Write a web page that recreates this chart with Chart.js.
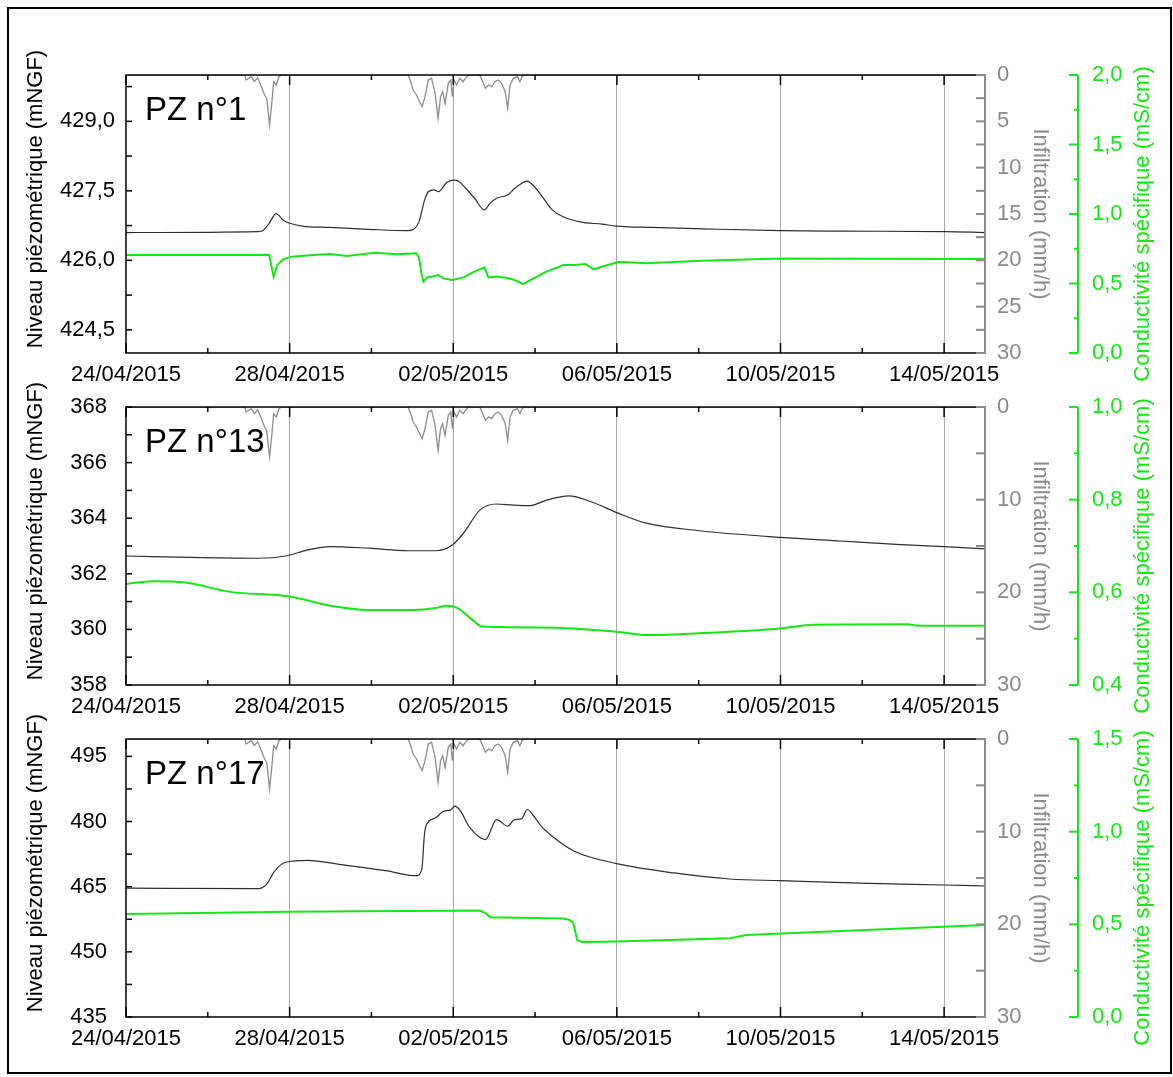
<!DOCTYPE html>
<html lang="fr">
<head>
<meta charset="UTF-8">
<title>Niveau piézométrique, infiltration et conductivité</title>
<script src="https://cdn.jsdelivr.net/npm/chart.js"></script>
<style>
  body { margin: 0; background: #fff; }
  #frame { position: absolute; left: 7px; top: 7px; width: 1165px; height: 1067px; border: 2px solid #000; box-sizing: border-box; }
  canvas { position: absolute; left: 0; }
</style>
</head>
<body>
<div id="frame"></div>
<canvas id="pz1" width="1173" height="360" style="top:42px"></canvas>
<canvas id="pz13" width="1173" height="360" style="top:374px"></canvas>
<canvas id="pz17" width="1173" height="360" style="top:706px"></canvas>
<script>
// x axis: days since 24/04/2015 00:00
const dayTicks = [0, 2, 4, 6, 8, 10, 12, 14, 16, 18, 20];
const dateDays = [0, 4, 8, 12, 16, 20];
const dateLabels = ['24/04/2015', '28/04/2015', '02/05/2015', '06/05/2015', '10/05/2015', '14/05/2015'];

const panelNames = ['PZ n°1', 'PZ n°13', 'PZ n°17'];
const levelTitle = 'Niveau piézométrique (mNGF)';
const infilTitle = 'Infiltration (mm/h)';
const condTitle = 'Conductivité spécifique (mS/cm)';

// axis ranges and ticks
const levelRange = [[424, 430], [358, 368], [435, 499]];
const levelTicks = [[424.5, 426, 427.5, 429], [358, 360, 362, 364, 366, 368], [435, 450, 465, 480, 495]];
const levelMinor = [[425.25, 426.75, 428.25, 429.75], [359, 361, 363, 365, 367], [442.5, 457.5, 472.5, 487.5]];
const levelDecimals = [1, 0, 0];
const infilTicks = [[0, 5, 10, 15, 20, 25, 30], [0, 10, 20, 30], [0, 10, 20, 30]];
const infilMinor = [[2.5, 7.5, 12.5, 17.5, 22.5, 27.5], [5, 15, 25], [5, 15, 25]];
const condRange = [[0, 2], [0.4, 1.0], [0, 1.5]];
const condTicks = [[0, 0.5, 1, 1.5, 2], [0.4, 0.6, 0.8, 1.0], [0, 0.5, 1.0, 1.5]];
const condMinor = [[0.25, 0.75, 1.25, 1.75], [0.5, 0.7, 0.9], [0.25, 0.75, 1.25]];
const condSmooth = [false, true, false];

// infiltration (mm/h), same record in every panel
const infilDays = [0, 2.90, 2.94, 3.00, 3.06, 3.14, 3.22, 3.31, 3.39, 3.44, 3.51, 3.56, 3.61, 3.67, 3.74, 3.80,
  6.90, 6.96, 7.02, 7.10, 7.18, 7.24, 7.31, 7.39, 7.47, 7.55, 7.63, 7.69, 7.74, 7.80, 7.88, 7.94, 7.98, 8.02,
  8.08, 8.16, 8.24, 8.33, 8.39, 8.65, 8.72, 8.79, 8.86, 8.94, 9.02, 9.10, 9.18, 9.27, 9.33, 9.39, 9.47, 9.57,
  9.63, 9.68, 9.76, 21];
const infil = [0, 0, 0.54, 0.36, 0.18, 0.72, 0.29, 1.26, 2.16, 2.52, 5.4, 3.24, 0.72, 1.08, 0.18, 0,
  0, 0.72, 1.62, 2.16, 2.88, 3.42, 2.34, 0.54, 0.36, 1.8, 4.68, 2.34, 1.8, 3.06, 0.9, 0.54, 2.34, 0.54,
  1.08, 0.36, 0.72, 0.18, 0, 0, 0.72, 1.44, 1.08, 1.26, 0.72, 0.54, 0.9, 1.8, 3.6, 1.08, 0.36, 0.18,
  0.72, 0.18, 0, 0];

// PZ n°1
const levelDays1 = [0, 3.23, 3.36, 3.50, 3.67, 3.84, 4.0, 4.31, 4.99, 5.94, 6.89, 7.16, 7.30, 7.39, 7.53, 7.64,
  7.84, 8.04, 8.14, 8.31, 8.52, 8.76, 8.90, 9.06, 9.33, 9.50, 9.67, 9.81, 9.94, 10.15, 10.42, 10.69, 11.10,
  11.64, 12.0, 12.86, 14.08, 16.0, 17.47, 20.0, 21.0];
const level1 = [426.60, 426.62, 426.65, 426.80, 427.01, 426.87, 426.80, 426.74, 426.71, 426.67, 426.64, 426.83,
  427.30, 427.48, 427.52, 427.48, 427.68, 427.73, 427.70, 427.55, 427.34, 427.09, 427.23, 427.34, 427.41,
  427.55, 427.66, 427.71, 427.63, 427.41, 427.09, 426.94, 426.83, 426.78, 426.74, 426.71, 426.68, 426.64,
  426.63, 426.62, 426.60];
const condDays1 = [0, 3.50, 3.53, 3.61, 3.70, 3.84, 4.04, 4.58, 4.99, 5.40, 6.08, 6.62, 7.09, 7.16, 7.23, 7.27,
  7.36, 7.50, 7.64, 7.77, 7.98, 8.25, 8.52, 8.76, 8.86, 9.06, 9.33, 9.50, 9.71, 9.88, 10.28, 10.69, 10.96,
  11.23, 11.44, 11.64, 12.05, 12.72, 14.08, 16.0, 21.0];
const cond1 = [0.705, 0.705, 0.66, 0.549, 0.633, 0.674, 0.693, 0.705, 0.712, 0.698, 0.722, 0.71, 0.717, 0.69,
  0.56, 0.513, 0.544, 0.55, 0.561, 0.535, 0.525, 0.544, 0.585, 0.616, 0.544, 0.55, 0.54, 0.525, 0.496, 0.525,
  0.585, 0.633, 0.633, 0.64, 0.602, 0.62, 0.657, 0.645, 0.664, 0.679, 0.676];

// PZ n°13
const levelDays2 = [0, 1.87, 3.23, 3.9, 4.45, 4.99, 5.94, 6.89, 7.57, 7.98, 8.25, 8.65, 9.06, 9.47, 9.88, 10.28,
  10.83, 11.37, 12.0, 12.72, 14.08, 16.0, 17.47, 18.83, 20.0, 21.0];
const level2 = [362.64, 362.58, 362.56, 362.64, 362.86, 362.98, 362.92, 362.83, 362.83, 363.04, 363.46, 364.29,
  364.51, 364.47, 364.45, 364.65, 364.80, 364.59, 364.20, 363.82, 363.54, 363.31, 363.18, 363.06, 362.98, 362.90];
const condDays2 = [0, 0.65, 1.46, 2.55, 4.0, 4.99, 5.94, 7.03, 7.57, 7.84, 8.11, 8.38, 8.72, 10.15, 12.0, 12.72,
  14.08, 16.0, 16.8, 19.1, 19.37, 21];
const cond2 = [0.618, 0.624, 0.621, 0.601, 0.591, 0.571, 0.562, 0.562, 0.566, 0.571, 0.566, 0.547, 0.526, 0.524,
  0.515, 0.508, 0.512, 0.522, 0.530, 0.531, 0.528, 0.528];

// PZ n°17
const levelDays3 = [0, 3.23, 3.43, 3.63, 3.9, 4.45, 5.26, 6.35, 7.09, 7.23, 7.30, 7.37, 7.57, 7.77, 7.93, 8.04,
  8.18, 8.38, 8.79, 9.06, 9.33, 9.50, 9.67, 9.81, 9.94, 10.15, 10.42, 10.96, 12.0, 13.4, 14.76, 16.0, 18.15,
  20.0, 21.0];
const level3 = [464.69, 464.54, 465.46, 468.54, 470.62, 471.08, 470.08, 468.70, 467.54, 468.92, 477.4, 479.70,
  480.85, 482.39, 482.62, 483.54, 482.39, 478.93, 475.85, 480.46, 478.93, 480.46, 480.62, 482.77, 481.62,
  478.93, 476.62, 473.16, 470.31, 468.16, 466.77, 466.39, 465.77, 465.39, 465.16];
const condDays3 = [0, 4.0, 8.65, 8.79, 8.90, 10.69, 10.83, 10.93, 11.03, 11.16, 12.0, 14.76, 15.17, 21];
const cond3 = [0.556, 0.568, 0.574, 0.56, 0.538, 0.532, 0.525, 0.51, 0.416, 0.405, 0.407, 0.425, 0.443, 0.496];

const levelSeries = [[levelDays1, level1], [levelDays2, level2], [levelDays3, level3]];
const condSeries = [[condDays1, cond1], [condDays2, cond2], [condDays3, cond3]];

const GREEN = '#14e814';
const AXIS_GRAY = '#8a8a8a';
const FONT = '"Liberation Sans", Arial, sans-serif';
Chart.defaults.font.family = FONT;
Chart.defaults.font.size = 22;

function pts(xs, ys) {
  return xs.map((x, i) => ({ x: x, y: ys[i] }));
}
function comma(v, d) {
  return v.toFixed(d).replace('.', ',');
}
function tickList(major, minor) {
  return major.concat(minor).sort((a, b) => a - b).map(v => ({ value: v }));
}

// frame, inward tick marks, the green axis and the free texts
const axisDecor = {
  id: 'axisDecor',
  afterDraw(chart, args, opts) {
    const p = opts.panel;
    const { ctx, chartArea: a, scales } = chart;
    const seg = (x1, y1, x2, y2) => { ctx.beginPath(); ctx.moveTo(x1, y1); ctx.lineTo(x2, y2); ctx.stroke(); };
    ctx.save();
    ctx.strokeStyle = '#000';
    ctx.lineWidth = 1.5;
    ctx.beginPath();
    ctx.moveTo(a.right, a.top); ctx.lineTo(a.left, a.top); ctx.lineTo(a.left, a.bottom); ctx.lineTo(a.right, a.bottom);
    ctx.stroke();
    scales.x.ticks.forEach(t => {
      const x = scales.x.getPixelForValue(t.value);
      const len = t.label ? 10 : 5;
      seg(x, a.bottom, x, a.bottom - len);
      seg(x, a.top, x, a.top + len);
    });
    scales.y.ticks.forEach(t => {
      const y = scales.y.getPixelForValue(t.value);
      seg(a.left, y, a.left + 6, y);
    });

    ctx.strokeStyle = AXIS_GRAY;
    ctx.lineWidth = 2;
    seg(a.right, a.top - 1, a.right, a.bottom + 1);
    scales.yInf.ticks.forEach(t => {
      const y = scales.yInf.getPixelForValue(t.value);
      seg(a.right - 9, y, a.right, y);
    });

    const gx = scales.yCond.left;
    ctx.strokeStyle = GREEN;
    seg(gx, a.top, gx, a.bottom);
    scales.yCond.ticks.forEach(t => {
      const y = scales.yCond.getPixelForValue(t.value);
      seg(gx - (t.label ? 9 : 4), y, gx, y);
    });

    const cy = (a.top + a.bottom) / 2;
    ctx.font = '22px ' + FONT;
    ctx.textAlign = 'center';
    ctx.textBaseline = 'middle';
    ctx.fillStyle = '#000';
    ctx.save(); ctx.translate(36, cy - 15); ctx.rotate(-Math.PI / 2); ctx.fillText(levelTitle, 0, 0); ctx.restore();
    ctx.fillStyle = GREEN;
    ctx.save(); ctx.translate(1143, cy + 10); ctx.rotate(-Math.PI / 2); ctx.fillText(condTitle, 0, 0); ctx.restore();

    ctx.fillStyle = '#000';
    ctx.font = '33px ' + FONT;
    ctx.textAlign = 'left';
    ctx.textBaseline = 'alphabetic';
    ctx.fillText(panelNames[p], 145, a.top + 45);
    ctx.restore();
  }
};

function makePanel(canvasId, p) {
  const [ld, lv] = levelSeries[p];
  const [cd, cv] = condSeries[p];
  const condLine = { label: 'Conductivité', data: pts(cd, cv), yAxisID: 'yCond', borderColor: GREEN, borderWidth: 2,
    pointRadius: 0, tension: 0 };
  if (condSmooth[p]) condLine.cubicInterpolationMode = 'monotone';
  new Chart(document.getElementById(canvasId), {
    type: 'line',
    data: {
      datasets: [
        { label: 'Niveau', data: pts(ld, lv), yAxisID: 'y', borderColor: '#2e2e2e', borderWidth: 1.2,
          pointRadius: 0, cubicInterpolationMode: 'monotone' },
        condLine,
        { label: 'Infiltration', data: pts(infilDays, infil), yAxisID: 'yInf', borderColor: '#8c8c8c',
          borderWidth: 1.3, pointRadius: 0, tension: 0 }
      ]
    },
    options: {
      responsive: false,
      animation: false,
      devicePixelRatio: 1,
      layout: { padding: { top: 33, left: 0, right: 0, bottom: 0 } },
      plugins: { legend: { display: false }, tooltip: { enabled: false }, axisDecor: { panel: p } },
      scales: {
        x: {
          type: 'linear', min: 0, max: 21,
          afterBuildTicks: s => { s.ticks = dayTicks.map(v => ({ value: v })); },
          afterFit: s => { s.height = 49; },
          border: { display: false },
          grid: {
            drawTicks: false,
            color: c => (c.tick && c.tick.value > 0 && dateDays.includes(c.tick.value)) ? '#a8a8a8' : 'rgba(0,0,0,0)'
          },
          ticks: {
            color: '#000', padding: 9, autoSkip: false, maxRotation: 0, minRotation: 0,
            callback: v => { const i = dateDays.indexOf(v); return i >= 0 ? dateLabels[i] : ''; }
          }
        },
        y: {
          position: 'left', min: levelRange[p][0], max: levelRange[p][1],
          afterBuildTicks: s => { s.ticks = tickList(levelTicks[p], levelMinor[p]); },
          afterFit: s => { s.width = 126; },
          border: { display: false },
          grid: { display: false },
          ticks: {
            color: '#000', padding: p === 0 ? 3 : 11, autoSkip: false,
            callback: v => levelTicks[p].includes(v) ? comma(v, levelDecimals[p]) : ''
          }
        },
        yInf: {
          position: 'right', reverse: true, min: 0, max: 30, weight: 0,
          afterBuildTicks: s => { s.ticks = tickList(infilTicks[p], infilMinor[p]); },
          afterFit: s => { s.width = 93; },
          border: { display: false },
          grid: { display: false, drawTicks: false },
          title: { display: true, text: infilTitle, color: AXIS_GRAY, font: { size: 22 }, padding: { top: 25, bottom: 0 } },
          ticks: {
            color: AXIS_GRAY, padding: 12, autoSkip: false,
            callback: v => infilTicks[p].includes(v) ? String(v) : ''
          }
        },
        yCond: {
          position: 'right', min: condRange[p][0], max: condRange[p][1], weight: 1,
          afterBuildTicks: s => { s.ticks = tickList(condTicks[p], condMinor[p]); },
          afterFit: s => { s.width = 95; },
          border: { display: false },
          grid: { display: false, drawTicks: false },
          ticks: {
            color: GREEN, padding: 14, autoSkip: false,
            callback: v => condTicks[p].includes(v) ? comma(v, 1) : ''
          }
        }
      }
    },
    plugins: [axisDecor]
  });
}

makePanel('pz1', 0);
makePanel('pz13', 1);
makePanel('pz17', 2);
</script>
</body>
</html>
